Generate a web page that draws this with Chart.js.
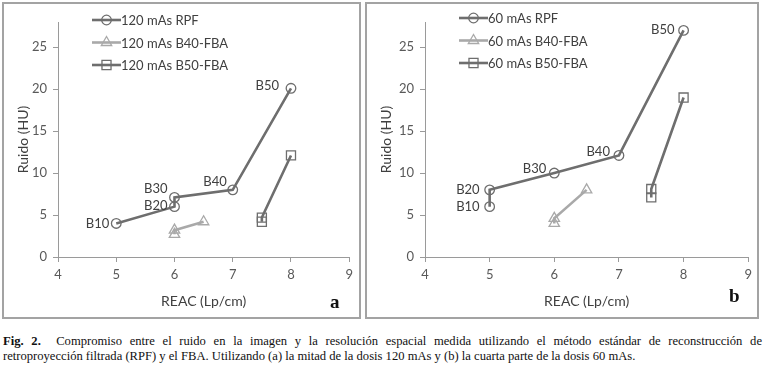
<!DOCTYPE html>
<html>
<head>
<meta charset="utf-8">
<script src="https://cdn.jsdelivr.net/npm/chart.js@4"></script>
<style>
  body { margin: 0; background: #fff; width: 764px; height: 368px; position: relative; overflow: hidden; }
  .panel { position: absolute; border: 2px solid #a3a3a3; box-sizing: border-box; }
  canvas { position: absolute; }
  .tag { position: absolute; font: bold 19px/20px "Liberation Serif", serif; color: #111; }
  .caption { position: absolute; left: 3px; width: 759px; font: 12.6px/15px "Liberation Serif", serif;
             color: #111; white-space: nowrap; }
  .caption.first { top: 334px; text-align: justify; text-align-last: justify; }
  .caption.second { top: 349px; }
</style>
</head>
<body>
<div class="panel" style="left:2px;top:2px;width:359px;height:317px"></div>
<div class="panel" style="left:365px;top:2px;width:394px;height:317px"></div>
<canvas id="chart-a" width="354" height="312" style="left:4px;top:4px"></canvas>
<canvas id="chart-b" width="390" height="312" style="left:367px;top:4px"></canvas>
<div class="tag" style="left:330px;top:292px">a</div>
<div class="tag" style="left:729px;top:286px">b</div>
<div class="caption first"><b>Fig. 2.</b>&nbsp; Compromiso entre el ruido en la imagen y la resolución espacial medida utilizando el método estándar de reconstrucción de</div>
<div class="caption second">retroproyección filtrada (RPF) y el FBA. Utilizando (a) la mitad de la dosis 120 mAs y (b) la cuarta parte de la dosis 60 mAs.</div>

<script>
/* ─── Data ───────────────────────────────────────────────────────────────── */
const xTicks = [4, 5, 6, 7, 8, 9];
const yTicks = [0, 5, 10, 15, 20, 25];
const kernels = ['B10', 'B20', 'B30', 'B40', 'B50'];

// (a) 120 mAs
const rpf120X   = [5, 6, 6, 7, 8];
const rpf120Y   = [4.0, 6.0, 7.1, 8.0, 20.1];
const b40f120X  = [6, 6, 6.5];
const b40f120Y  = [2.7, 3.2, 4.2];
const b50f120X  = [7.5, 7.5, 8];
const b50f120Y  = [4.2, 4.7, 12.1];

// (b) 60 mAs
const rpf60X    = [5, 5, 6, 7, 8];
const rpf60Y    = [6.0, 8.0, 10.0, 12.1, 27.0];
const b40f60X   = [6, 6, 6.5];
const b40f60Y   = [4.0, 4.6, 8.0];
const b50f60X   = [7.5, 7.5, 8];
const b50f60Y   = [7.1, 8.1, 19.0];

/* ─── Styles ─────────────────────────────────────────────────────────────── */
const DARK  = '#6e6e6e';
const LIGHT = '#a9a9a9';
const TEXT  = '#404040';
const FONT  = 'Lato, "Open Sans", sans-serif';

const pts = (xs, ys) => xs.map((x, i) => ({ x, y: ys[i] }));

function series(label, xs, ys, color, shape, r) {
  return {
    label,
    data: pts(xs, ys),
    showLine: true,
    borderColor: color,
    borderWidth: 2.6,
    pointStyle: shape,
    pointRadius: r,
    pointHoverRadius: r,
    pointBorderColor: color,
    pointBorderWidth: 1.3,
    pointBackgroundColor: 'rgba(255,255,255,0)'
  };
}

function marker(ctx, shape, r, x, y) {
  ctx.beginPath();
  if (shape === 'circle') {
    ctx.arc(x, y, r, 0, Math.PI * 2);
  } else if (shape === 'triangle') {
    ctx.moveTo(x, y - r);
    ctx.lineTo(x - r * 0.866, y + r * 0.5);
    ctx.lineTo(x + r * 0.866, y + r * 0.5);
    ctx.closePath();
  } else {
    const s = r * Math.SQRT1_2;
    ctx.rect(x - s, y - s, s * 2, s * 2);
  }
  ctx.stroke();
}

/* ─── Labels + legend plugin ─────────────────────────────────────────────── */
const annotate = {
  id: 'annotate',
  afterDatasetsDraw(chart, args, opts) {
    const { ctx, chartArea, scales: { x, y } } = chart;
    ctx.save();
    ctx.font = `13px ${FONT}`;
    ctx.fillStyle = TEXT;

    // kernel labels on the RPF curve
    ctx.textAlign = 'right';
    ctx.textBaseline = 'middle';
    const rpf = chart.data.datasets[0].data;
    kernels.forEach((k, i) => {
      const [dx, dy] = opts.offsets[i];
      ctx.fillText(k, x.getPixelForValue(rpf[i].x) + dx, y.getPixelForValue(rpf[i].y) + dy);
    });

    // legend (line + marker sample)
    ctx.textAlign = 'left';
    chart.data.datasets.forEach((ds, i) => {
      const ly = chartArea.top + opts.legendTop + i * 22.5;
      const lx = chartArea.left + 34;
      ctx.strokeStyle = ds.borderColor;
      ctx.lineWidth = ds.borderWidth;
      ctx.beginPath();
      ctx.moveTo(lx, ly);
      ctx.lineTo(lx + 29, ly);
      ctx.stroke();
      ctx.lineWidth = ds.pointBorderWidth;
      marker(ctx, ds.pointStyle, ds.pointRadius, lx + 14.5, ly);
      ctx.fillStyle = TEXT;
      ctx.fillText(ds.label, lx + 29, ly + 1);
    });
    ctx.restore();
  }
};

function makeChart(id, datasets, yAxisWidth, offsets, legendTop) {
  const axisGrid = { display: true, drawOnChartArea: false, drawTicks: true, tickLength: 5, color: '#9a9a9a' };
  const axisBorder = { display: true, color: '#9a9a9a', width: 1 };
  const tickFont = { family: FONT, size: 13 };
  new Chart(document.getElementById(id), {
    type: 'scatter',
    data: { datasets },
    plugins: [annotate],
    options: {
      responsive: false,
      animation: false,
      layout: { padding: { top: 18, right: 8, left: 0, bottom: 0 } },
      plugins: {
        legend: { display: false },
        tooltip: { enabled: false },
        annotate: { offsets, legendTop }
      },
      scales: {
        x: {
          type: 'linear', min: 4, max: 9,
          afterBuildTicks: s => { s.ticks = xTicks.map(v => ({ value: v })); },
          afterFit: s => { s.height = 59; },
          grid: axisGrid, border: axisBorder,
          ticks: { font: tickFont, color: '#595959', padding: 5 },
          title: { display: true, text: 'REAC (Lp/cm)', color: TEXT,
                   font: { family: FONT, size: 14 }, padding: { top: 0, bottom: 6 } }
        },
        y: {
          type: 'linear', min: 0, max: 28,
          afterBuildTicks: s => { s.ticks = yTicks.map(v => ({ value: v })); },
          afterFit: s => { s.width = yAxisWidth; },
          grid: axisGrid, border: axisBorder,
          ticks: { font: tickFont, color: '#595959', padding: 6 },
          title: { display: true, text: 'Ruido (HU)', color: TEXT,
                   font: { family: FONT, size: 14 }, padding: { top: 11, bottom: 0 } }
        }
      }
    }
  });
}

makeChart('chart-a', [
  series('120 mAs RPF', rpf120X, rpf120Y, DARK, 'circle', 4.8),
  series('120 mAs B40-FBA', b40f120X, b40f120Y, LIGHT, 'triangle', 6),
  series('120 mAs B50-FBA', b50f120X, b50f120Y, DARK, 'rect', 6.4)
], 54, [[-7, 0], [-7, -1], [-7, -9], [-6, -8], [-12, -2]], -2);

makeChart('chart-b', [
  series('60 mAs RPF', rpf60X, rpf60Y, DARK, 'circle', 4.8),
  series('60 mAs B40-FBA', b40f60X, b40f60Y, LIGHT, 'triangle', 6),
  series('60 mAs B50-FBA', b50f60X, b50f60Y, DARK, 'rect', 6.4)
], 58, [[-10, 0], [-10, 0], [-8, -4], [-9, -4], [-9, -1]], -4);
</script>
</body>
</html>
